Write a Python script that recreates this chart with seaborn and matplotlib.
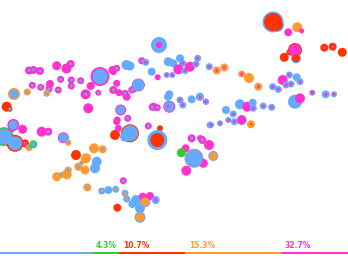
import matplotlib
matplotlib.use("Agg")
import matplotlib.pyplot as plt
import seaborn as sns
import pandas as pd
import numpy as np

# ---- data (pixel-space coordinates), 10 bubbles per line ----
bx = [29, 33.5, 40, 56.7, 66.5, 70.7, 100, 112.5, 14, 27.3,
      32.3, 40.7, 50, 49, 46.7, 58.3, 60.7, 71.3, 71.3, 80.7,
      90.7, 85.7, 98.3, 88.3, 6.7, 10, 113.3, 116.7, 120.7, 117.3,
      127.7, 159, 126.5, 130, 141.7, 145.7, 151.7, 157.7, 168.3, 173.3,
      180, 182.7, 178.3, 185, 190, 196, 197.7, 166.7, 172.3, 209.3,
      216.7, 224.3, 138.3, 133.3, 126.7, 152.3, 157.3, 169.3, 169.3, 180,
      182.7, 191.7, 200, 206, 116.7, 113.3, 119, 125, 131.7, 226,
      241.7, 249, 258.3, 272.7, 278.3, 282.7, 289.3, 286, 291, 296.7,
      300, 295, 300, 312.3, 325.7, 334, 200, 205.7, 240, 247.3,
      252.7, 253.3, 263.3, 271.7, 233.3, 228.3, 234.3, 241.7, 251, 211,
      220, 200, 273, 277, 288.3, 297.3, 301.7, 295, 289.3, 284.3,
      296, 324.3, 332.7, 342.3, 116.7, 115, 118.3, 130, 125, 148.3,
      160, 157.3, 153.3, 191.7, 202.3, 209, 185.7, 181.3, 195.7, 194,
      213.3, 203.3, 186.3, 210, 4, 15, 11.7, 13.3, 22.7, 25,
      29, 33.3, 41.7, 48.3, 63.3, 68.3, 76, 94, 102.7, 86,
      81.7, 78.3, 85, 96.7, 95, 68.3, 66.7, 56.7, 61, 87.3,
      123.3, 101.7, 108.3, 115.7, 125, 126.7, 132.3, 136, 145, 142.7,
      150, 155.7, 140, 117.3, 140, 168, 168]
by = [70.5, 70, 71, 65.7, 68.5, 64, 76.5, 70, 94, 92,
      85.3, 87.3, 84, 89, 93.3, 90, 79.3, 80, 86, 80.7,
      86, 94.3, 92.7, 108.3, 106.7, 109.3, 90, 83.3, 110, 120,
      118.3, 45, 65, 66, 60.7, 62.3, 71.7, 77.3, 61.7, 63.3,
      58.3, 63.3, 69.3, 70.7, 66.7, 64, 58.3, 75, 75, 66.7,
      70.5, 67.5, 85, 89.3, 96.7, 107.3, 107.7, 94.3, 106.7, 100,
      105, 99.3, 97.3, 101.7, 68.3, 71.7, 92.7, 93.3, 90, 110,
      74, 78, 86.7, 86.7, 89.3, 80, 75, 85, 84, 77.3,
      81.7, 101.7, 98.3, 92.7, 94.3, 94.3, 96.7, 101.7, 104.3, 106.7,
      102.7, 108.3, 106, 107.3, 114, 120, 121.7, 120, 124.3, 125,
      123.3, 138, 22, 25, 32.3, 27.3, 31, 50, 52.3, 57.3,
      58.3, 47.7, 46.7, 52.3, 121.7, 135, 128.3, 133.3, 136.7, 126,
      128.3, 140, 106.7, 138.3, 140, 145, 148.3, 152.7, 153.3, 158.3,
      156, 163.3, 170.7, 125, 136.7, 143.3, 128.3, 125, 129.3, 143.3,
      147.7, 144.3, 131.7, 131.7, 137.7, 142.7, 155, 148.3, 149.3, 158.3,
      162.7, 166.7, 170, 161.7, 168.3, 170, 174.3, 176.7, 175, 187.3,
      180.7, 191, 190, 189.3, 193.3, 199, 204, 200, 201.7, 196.7,
      196, 200, 217.3, 207.7, 208.3, 96.7, 106.7]
outer_r = [4, 4, 4, 4.5, 5, 4, 9.5, 4, 6, 3.5,
           3.5, 3.5, 4, 3.5, 3.5, 3.5, 3.5, 3.5, 3.5, 3.5,
           4, 5, 3, 5, 5, 2.5, 4, 3.5, 5.5, 3.5,
           3.5, 8, 5, 4.5, 3.5, 3.5, 4, 3, 4.5, 4,
           4, 3.5, 5, 3.5, 5, 3.5, 3.5, 3, 3, 3.5,
           4, 4, 6.5, 3.5, 4, 3.5, 3.5, 4, 6, 3.5,
           3.5, 4, 3.5, 3, 3.5, 3.5, 3.5, 3.5, 3.5, 4,
           3.5, 5, 4, 3.5, 3.5, 5, 3.5, 3.5, 3.5, 4,
           3.5, 7, 5, 3, 4, 3, 4, 3, 5, 5,
           4, 3.5, 3.5, 3.5, 3.5, 3, 3.5, 5, 4, 3,
           3, 3, 10.5, 7, 4, 5, 2.5, 7, 3, 4.5,
           5, 4, 4, 4.5, 3.5, 5, 3.5, 9, 5, 3.5,
           3, 10, 4, 4, 4, 5, 4, 4.5, 4.5, 9.5,
           5, 4.5, 5, 3.5, 9.5, 8.5, 4, 6, 4.5, 4,
           3.5, 4, 5, 4, 5.5, 3, 5, 5, 4, 5,
           2.5, 4, 4.5, 5, 5, 3.5, 5, 4.5, 3, 4,
           3.5, 3.5, 4, 3.5, 3.5, 3.5, 4, 5, 5.5, 4,
           4, 4, 5.5, 4, 5, 4, 3.5]
outer_c = ["p", "p", "p", "p", "p", "p", "p", "p", "o", "o",
           "p", "p", "p", "p", "o", "p", "p", "p", "p", "p",
           "p", "p", "p", "p", "r", "r", "p", "p", "p", "p",
           "p", "b", "b", "b", "p", "b", "b", "p", "b", "b",
           "b", "b", "p", "b", "p", "b", "b", "b", "b", "b",
           "o", "o", "p", "p", "p", "p", "p", "b", "p", "b",
           "b", "b", "b", "p", "p", "p", "p", "p", "p", "b",
           "o", "o", "o", "b", "b", "p", "b", "b", "b", "b",
           "b", "b", "p", "b", "b", "b", "b", "b", "b", "p",
           "b", "b", "b", "b", "b", "b", "b", "b", "o", "b",
           "b", "p", "b", "b", "p", "o", "p", "r", "r", "r",
           "b", "r", "r", "r", "p", "r", "p", "r", "b", "p",
           "r", "b", "p", "p", "p", "p", "p", "g", "g", "o",
           "b", "p", "p", "b", "g", "r", "p", "p", "p", "r",
           "o", "g", "p", "p", "p", "o", "r", "o", "o", "o",
           "o", "o", "o", "b", "b", "o", "o", "o", "o", "o",
           "p", "b", "b", "b", "b", "b", "b", "b", "b", "p",
           "p", "b", "b", "r", "b", "b", "b"]
inner_r = [1.5, 1.5, 1.5, 0, 0, 1.5, 7.5, 0, 4.5, 1.5,
           1.5, 1.5, 0, 1.5, 1.5, 1.5, 1.5, 1.5, 1.5, 1.5,
           0, 1.5, 1.5, 0, 0, 1.5, 1.5, 0, 4.5, 0,
           1.5, 3, 0, 0, 1.5, 1.5, 0, 0, 0, 0,
           0, 1.5, 0, 1.5, 0, 1.5, 1.5, 1.5, 1.5, 1.5,
           1.5, 1.5, 6, 1.5, 0, 1.5, 1.5, 0, 5, 1.5,
           1.5, 0, 1.5, 1.5, 1.5, 0, 0, 1.5, 1.5, 0,
           1.5, 0, 1.5, 1.5, 1.5, 0, 1.5, 1.5, 1.5, 0,
           1.5, 0, 0, 2, 1.5, 1.5, 0, 1.5, 0, 0,
           0, 1.5, 1.5, 1.5, 1.5, 1.5, 1.5, 4.5, 1, 1.5,
           1.5, 0, 9, 5.5, 0, 0, 0, 6, 1.5, 0,
           4, 1.5, 1.5, 0, 0, 0, 0, 8, 0, 1.5,
           0, 7, 0, 1.5, 1.5, 0, 0, 0, 3, 9,
           4, 0, 0, 0, 8, 7, 0, 4.5, 0, 2,
           1.5, 2.5, 0, 1.5, 4.5, 1.5, 0, 0, 1.5, 0,
           1.5, 1.5, 0, 0, 0, 1.5, 0, 0, 1.5, 1.5,
           1.5, 1.5, 0, 1.5, 1.5, 1.5, 0, 0, 4.5, 0,
           0, 1.5, 4.5, 0, 0, 0, 1.5]
inner_c = ["b", "b", "b", "-", "-", "b", "b", "-", "b", "b",
           "b", "b", "-", "b", "b", "b", "b", "b", "b", "b",
           "-", "b", "b", "-", "-", "b", "b", "-", "b", "-",
           "b", "p", "-", "-", "b", "p", "-", "-", "-", "-",
           "-", "p", "-", "p", "-", "p", "p", "p", "p", "p",
           "p", "p", "b", "b", "-", "b", "b", "-", "b", "p",
           "p", "-", "p", "b", "b", "-", "-", "b", "b", "-",
           "p", "-", "p", "p", "p", "-", "p", "p", "p", "-",
           "p", "-", "-", "p", "p", "p", "-", "p", "-", "-",
           "-", "p", "p", "p", "p", "p", "p", "p", "r", "p",
           "p", "-", "r", "r", "-", "-", "-", "p", "p", "-",
           "r", "p", "p", "-", "-", "-", "-", "b", "-", "b",
           "-", "r", "-", "b", "b", "-", "-", "-", "b", "b",
           "o", "-", "-", "-", "b", "b", "-", "b", "-", "p",
           "b", "b", "-", "b", "b", "b", "-", "-", "b", "-",
           "b", "b", "-", "-", "-", "b", "-", "-", "b", "b",
           "b", "o", "-", "o", "o", "o", "-", "-", "o", "-",
           "-", "p", "o", "-", "-", "-", "p"]

bar_colors = ["blue", "green", "red", "orange", "pink"]
bar_widths = [92, 27, 66, 96, 67]
bar_labels = ["", "4.3%", "10.7%", "15.3%", "32.7%"]

palette = {"b": "#66aaff", "g": "#33cc33", "r": "#ff3300", "o": "#ff9933", "p": "#ff33cc"}
named = {"blue": "#66aaff", "green": "#33cc33", "red": "#ff3300", "orange": "#ff9933", "pink": "#ff33cc"}

df = pd.DataFrame({"x": bx, "y": by, "R": outer_r, "C": outer_c, "r": inner_r, "c": inner_c})

px2pt = 72 / 100.0

fig = plt.figure(figsize=(3.48, 2.62), dpi=100)
ax = fig.add_axes([0, 0, 1, 1])

sns.scatterplot(data=df, x="x", y="y", hue="C", palette=palette,
                s=(2 * df["R"] * px2pt) ** 2, linewidth=0, legend=False, ax=ax)
inner = df[(df["r"] > 0) & (df["c"] != "-")].reset_index(drop=True)
sns.scatterplot(data=inner, x="x", y="y", hue="c", palette=palette,
                s=(2 * inner["r"] * px2pt) ** 2, linewidth=0, legend=False, ax=ax)

left = np.concatenate([[0], np.cumsum(bar_widths)[:-1]])
ax.barh([253] * len(bar_widths), bar_widths, left=left, height=2.2,
        color=[named[c] for c in bar_colors])
for lx, lab, col in zip(left, bar_labels, bar_colors):
    if lab:
        ax.text(lx + 4, 245.5, lab, color=named[col], fontsize=5.5, fontweight="bold",
                ha="left", va="center")

ax.set_xlim(0, 348)
ax.set_ylim(262, 0)
ax.axis("off")
fig.savefig("out.png", dpi=100)
